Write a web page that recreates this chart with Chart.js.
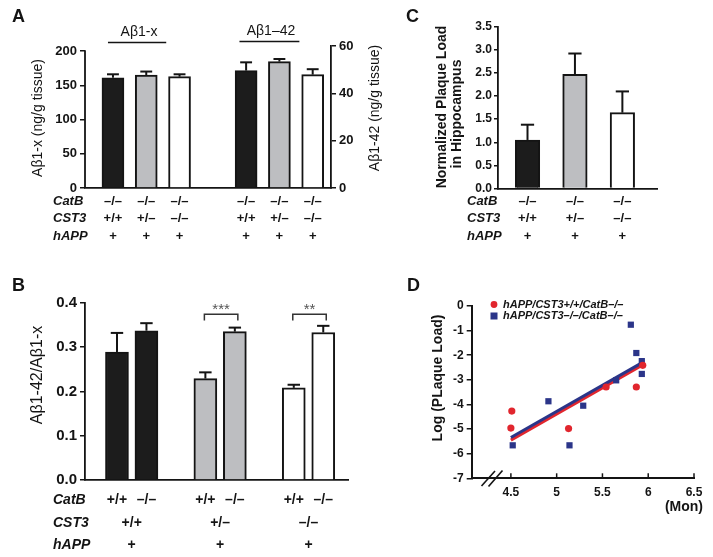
<!DOCTYPE html>
<html>
<head>
<meta charset="utf-8">
<title>CatB / CST3 amyloid panels</title>
<script src="https://cdn.jsdelivr.net/npm/chart.js@4.4.0/dist/chart.umd.min.js"></script>
<style>
  body { margin: 0; background: #fff; }
  #wrap { position: relative; width: 713px; height: 557px; }
  #wrap canvas { position: absolute; left: 0; top: 0; }
</style>
</head>
<body>
<div id="wrap">
  <canvas id="chartA" width="713" height="557"></canvas>
  <canvas id="chartB" width="713" height="557"></canvas>
  <canvas id="chartC" width="713" height="557"></canvas>
  <canvas id="chartD" width="713" height="557"></canvas>
</div>
<script>
// ---- Panel A : Abeta levels (ng/g tissue)
const catBA = ['–/–', '–/–', '–/–', '–/–', '–/–', '–/–'];
const cst3A = ['+/+', '+/–', '–/–', '+/+', '+/–', '–/–'];
const hAppA = ['+', '+', '+', '+', '+', '+'];
const ab1xMean = [161, 165, 162.5];
const ab1xErr = [5, 5, 3.5];
const ab142Mean = [49.6, 53.4, 47.9];
const ab142Err = [3.5, 1.1, 2.3];
const ticksA1x = [0, 50, 100, 150, 200];
const ticksA42 = [0, 20, 40, 60];

// ---- Panel B : Abeta1-42 / Abeta1-x ratio
const catBB = ['+/+', '–/–', '+/+', '–/–', '+/+', '–/–'];
const cst3B = ['+/+', '+/–', '–/–'];
const hAppB = ['+', '+', '+'];
const ratioMean = [0.289, 0.337, 0.229, 0.335, 0.208, 0.333];
const ratioErr = [0.043, 0.017, 0.014, 0.009, 0.007, 0.015];
const ratioStars = ['', '***', '**'];
const ticksB = [0, 0.1, 0.2, 0.3, 0.4];

// ---- Panel C : normalized plaque load in hippocampus
const catBC = ['–/–', '–/–', '–/–'];
const cst3C = ['+/+', '+/–', '–/–'];
const hAppC = ['+', '+', '+'];
const plaqueMean = [1.05, 2.47, 1.64];
const plaqueErr = [0.33, 0.45, 0.46];
const ticksC = [0, 0.5, 1, 1.5, 2, 2.5, 3, 3.5];

// ---- Panel D : log plaque load vs age (months)
const redLabel = 'hAPP/CST3+/+/CatB–/–';
const redAge = [4.51, 4.50, 5.13, 5.54, 5.87, 5.94];
const redLog = [-4.27, -4.96, -4.98, -3.29, -3.29, -2.41];
const blueLabel = 'hAPP/CST3–/–/CatB–/–';
const blueAge = [4.52, 4.91, 5.14, 5.29, 5.65, 5.81, 5.87, 5.93, 5.93];
const blueLog = [-5.66, -3.87, -5.66, -4.05, -3.02, -0.76, -1.91, -2.24, -2.76];
const redFitAge = [4.5, 5.92];
const redFitLog = [-5.45, -2.44];
const blueFitAge = [4.5, 5.92];
const blueFitLog = [-5.34, -2.33];
const ticksDx = [4.5, 5, 5.5, 6, 6.5];
const ticksDy = [-7, -6, -5, -4, -3, -2, -1, 0];

Chart.defaults.font.family = "'Liberation Sans', Arial, Helvetica, sans-serif";
Chart.defaults.color = '#141414';
Chart.defaults.animation = false;
Chart.defaults.responsive = false;
Chart.defaults.devicePixelRatio = 1;
Chart.defaults.plugins.legend.display = false;
Chart.defaults.plugins.tooltip.enabled = false;

const W = 713, H = 557;
const INK = '#141414';
const FILLS = ['#1c1c1c', '#bdbec1', '#ffffff'];
const FONT = "'Liberation Sans', Arial, Helvetica, sans-serif";
const RED = '#e1262e';
const NAVY = '#2b3589';

// padding so that the plot area lands on the given page box
function pad(area, yl, yr, xb) {
  return { left: area.left - yl, right: W - area.right - yr, top: area.top, bottom: H - area.bottom - xb };
}
function fixSize(size) {
  return function (scale) {
    if (scale.isHorizontal()) scale.height = size; else scale.width = size;
    scale.paddingLeft = 0; scale.paddingRight = 0; scale.paddingTop = 0; scale.paddingBottom = 0;
  };
}
function setTicks(list) {
  return function (scale) { scale.ticks = list.map(v => ({ value: v })); };
}
// bars live in slots; a gap of one slot between groups
function slots(groups, perGroup) {
  const out = [];
  for (let g = 0; g < groups; g++) for (let i = 0; i < perGroup; i++) out.push(1 + g * (perGroup + 1) + i);
  return out;
}
function yAxis(width, list, max, font, extra) {
  return Object.assign({
    type: 'linear', min: list[0], max: max,
    afterFit: fixSize(width), afterBuildTicks: setTicks(list),
    grid: { drawOnChartArea: false, drawTicks: true, tickLength: 5, color: INK, lineWidth: 1.5 },
    border: { display: true, color: INK, width: 1.8 },
    ticks: { color: INK, font: font, padding: 3 }
  }, extra || {});
}
function barX(min, max) {
  return {
    type: 'linear', min: min, max: max, offset: false,
    afterFit: fixSize(0),
    grid: { display: false, offset: false },
    border: { display: true, color: INK, width: 1.8 },
    ticks: { display: false }
  };
}

function text(ctx, str, x, y, font, align, rot, color) {
  ctx.save();
  ctx.font = font;
  ctx.fillStyle = color || INK;
  ctx.textAlign = align || 'center';
  ctx.textBaseline = 'middle';
  ctx.translate(x, y);
  if (rot) ctx.rotate(rot);
  ctx.fillText(str, 0, 0);
  ctx.restore();
}
function line(ctx, pts, width, color) {
  ctx.save();
  ctx.strokeStyle = color || INK;
  ctx.lineWidth = width;
  ctx.beginPath();
  pts.forEach((p, i) => i ? ctx.lineTo(p[0], p[1]) : ctx.moveTo(p[0], p[1]));
  ctx.stroke();
  ctx.restore();
}

const errorBars = {
  id: 'errorBars',
  afterDatasetsDraw(chart) {
    const ctx = chart.ctx;
    chart.data.datasets.forEach((ds, di) => {
      if (!ds.errors) return;
      const meta = chart.getDatasetMeta(di);
      const yScale = chart.scales[meta.yAxisID];
      meta.data.forEach((bar, i) => {
        const top = yScale.getPixelForValue(ds.data[i].y + ds.errors[i]);
        const cap = bar.width * 0.27;
        line(ctx, [[bar.x, bar.y], [bar.x, top]], 2);
        line(ctx, [[bar.x - cap, top], [bar.x + cap, top]], 2);
      });
    });
  }
};

function barSet(values, errs, xs, colors, axisId, thickness) {
  return {
    data: values.map((v, i) => ({ x: xs[i], y: v })),
    errors: errs,
    yAxisID: axisId,
    backgroundColor: colors,
    borderColor: INK,
    borderWidth: 2,
    barThickness: thickness,
    grouped: false
  };
}

// ---------------- Panel A
const slotsA = slots(2, 3);
const areaA = { left: 85, right: 331, top: 46, bottom: 188 };
new Chart(document.getElementById('chartA'), {
  type: 'bar',
  data: {
    datasets: [
      barSet(ab1xMean, ab1xErr, slotsA.slice(0, 3), FILLS, 'y', 22),
      barSet(ab142Mean, ab142Err, slotsA.slice(3), FILLS, 'y1', 22)
    ]
  },
  options: {
    layout: { padding: pad(areaA, 85, 30, 0), autoPadding: false },
    scales: {
      x: barX(0.16, 7.55),
      // left axis line only runs up to 200, drawn in extrasA
      y: yAxis(85, ticksA1x, 207.3, { weight: 'bold', size: 13 }, { border: { display: false } }),
      y1: yAxis(30, ticksA42, 60, { weight: 'bold', size: 13 }, { position: 'right' })
    }
  },
  plugins: [errorBars, {
    id: 'extrasA',
    afterDraw(chart) {
      const ctx = chart.ctx, x = chart.scales.x, y = chart.scales.y;
      const left = chart.chartArea.left;
      line(ctx, [[left, y.getPixelForValue(0)], [left, y.getPixelForValue(ticksA1x[ticksA1x.length - 1]) - 0.7]], 1.8);
      text(ctx, 'A', 12, 17, 'bold 18px ' + FONT, 'left');
      text(ctx, 'Aβ1-x (ng/g tissue)', 38, 118, '14px ' + FONT, 'center', -Math.PI / 2);
      text(ctx, 'Aβ1-42 (ng/g tissue)', 375, 108, '14px ' + FONT, 'center', -Math.PI / 2);
      text(ctx, 'Aβ1-x', 139, 32, '14px ' + FONT);
      line(ctx, [[x.getPixelForValue(0.85), 42.5], [x.getPixelForValue(2.6), 42.5]], 1.5);
      text(ctx, 'Aβ1–42', 271, 31, '14px ' + FONT);
      line(ctx, [[x.getPixelForValue(4.8), 41.5], [x.getPixelForValue(6.6), 41.5]], 1.5);
      const rows = [['CatB', catBA, 201], ['CST3', cst3A, 218], ['hAPP', hAppA, 236]];
      rows.forEach(r => {
        text(ctx, r[0], 53, r[2], 'italic bold 13px ' + FONT, 'left');
        r[1].forEach((s, i) => text(ctx, s, x.getPixelForValue(slotsA[i]), r[2], 'bold 13px ' + FONT));
      });
    }
  }]
});

// ---------------- Panel B
const slotsB = slots(3, 2);
const areaB = { left: 85, right: 348, top: 302.8, bottom: 480 };
new Chart(document.getElementById('chartB'), {
  type: 'bar',
  data: {
    datasets: [
      barSet(ratioMean, ratioErr, slotsB, [FILLS[0], FILLS[0], FILLS[1], FILLS[1], FILLS[2], FILLS[2]], 'y', 23)
    ]
  },
  options: {
    layout: { padding: pad(areaB, 85, 0, 0), autoPadding: false },
    scales: {
      x: barX(-0.085, 8.84),
      y: yAxis(85, ticksB, 0.4, { weight: 'bold', size: 15 }, {
        ticks: { color: INK, font: { weight: 'bold', size: 15 }, padding: 3, callback: v => v.toFixed(1) }
      })
    }
  },
  plugins: [errorBars, {
    id: 'extrasB',
    afterDraw(chart) {
      const ctx = chart.ctx, x = chart.scales.x, y = chart.scales.y;
      text(ctx, 'B', 12, 286, 'bold 18px ' + FONT, 'left');
      text(ctx, 'Aβ1-42/Aβ1-x', 38, 375, '16px ' + FONT, 'center', -Math.PI / 2);
      ratioStars.forEach((s, g) => {
        if (!s) return;
        const x0 = x.getPixelForValue(slotsB[g * 2]) - 1;
        const x1 = x.getPixelForValue(slotsB[g * 2 + 1]) + 3;
        const yb = y.getPixelForValue(0.374), yt = y.getPixelForValue(0.36);
        line(ctx, [[x0, yt], [x0, yb], [x1, yb], [x1, yt]], 1.5, '#333');
        text(ctx, s, (x0 + x1) / 2, y.getPixelForValue(0.385), '15px ' + FONT, 'center', 0, '#555');
      });
      const font = 'bold 14px ' + FONT;
      text(ctx, 'CatB', 53, 500, 'italic ' + font, 'left');
      catBB.forEach((s, i) => text(ctx, s, x.getPixelForValue(slotsB[i]), 500, font));
      text(ctx, 'CST3', 53, 523, 'italic ' + font, 'left');
      text(ctx, 'hAPP', 53, 545, 'italic ' + font, 'left');
      cst3B.forEach((s, g) => {
        const cx = (x.getPixelForValue(slotsB[g * 2]) + x.getPixelForValue(slotsB[g * 2 + 1])) / 2;
        text(ctx, s, cx, 523, font);
        text(ctx, hAppB[g], cx, 545, font);
      });
    }
  }]
});

// ---------------- Panel C
const slotsC = slots(1, 3);
const areaC = { left: 498, right: 657, top: 26.7, bottom: 188.5 };
new Chart(document.getElementById('chartC'), {
  type: 'bar',
  data: {
    datasets: [barSet(plaqueMean, plaqueErr, slotsC, FILLS, 'y', 24.5)]
  },
  options: {
    layout: { padding: pad(areaC, 60, 0, 0), autoPadding: false },
    scales: {
      x: barX(0.378, 3.73),
      y: yAxis(60, ticksC, 3.5, { weight: 'bold', size: 12 }, {
        ticks: { color: INK, font: { weight: 'bold', size: 12 }, padding: 2, callback: v => v.toFixed(1) },
        grid: { drawOnChartArea: false, drawTicks: true, tickLength: 4, color: INK, lineWidth: 1.5 }
      })
    }
  },
  plugins: [errorBars, {
    id: 'extrasC',
    afterDraw(chart) {
      const ctx = chart.ctx, x = chart.scales.x;
      text(ctx, 'C', 406, 17, 'bold 18px ' + FONT, 'left');
      text(ctx, 'Normalized Plaque Load', 442, 107, 'bold 14px ' + FONT, 'center', -Math.PI / 2);
      text(ctx, 'in Hippocampus', 457, 114, 'bold 14px ' + FONT, 'center', -Math.PI / 2);
      const rows = [['CatB', catBC, 201], ['CST3', cst3C, 218], ['hAPP', hAppC, 236]];
      rows.forEach(r => {
        text(ctx, r[0], 467, r[2], 'italic bold 13px ' + FONT, 'left');
        r[1].forEach((s, i) => text(ctx, s, x.getPixelForValue(slotsC[i]), r[2], 'bold 13px ' + FONT));
      });
    }
  }]
});

// ---------------- Panel D
const areaD = { left: 471.7, right: 694, top: 306, bottom: 478.3 };
const toPts = (xs, ys) => xs.map((v, i) => ({ x: v, y: ys[i] }));
new Chart(document.getElementById('chartD'), {
  type: 'scatter',
  data: {
    datasets: [
      { label: redLabel, data: toPts(redAge, redLog), pointStyle: 'circle', pointRadius: 3.6,
        backgroundColor: RED, borderColor: RED, borderWidth: 0, order: 1 },
      { label: blueLabel, data: toPts(blueAge, blueLog), pointStyle: 'rect', pointRadius: 4.4,
        backgroundColor: NAVY, borderColor: NAVY, borderWidth: 0, order: 1 },
      { type: 'line', data: toPts(redFitAge, redFitLog), borderColor: RED, borderWidth: 3,
        pointRadius: 0, order: 3 },
      { type: 'line', data: toPts(blueFitAge, blueFitLog), borderColor: NAVY, borderWidth: 3,
        pointRadius: 0, order: 2 }
    ]
  },
  options: {
    clip: false,
    layout: { padding: pad(areaD, 40, 0, 25), autoPadding: false },
    scales: {
      x: {
        type: 'linear', min: 4.072, max: 6.5,
        afterFit: fixSize(25), afterBuildTicks: setTicks(ticksDx),
        grid: { display: false, drawTicks: false },
        border: { display: true, color: INK, width: 2 },
        ticks: { color: INK, font: { weight: 'bold', size: 12 }, padding: 7, maxRotation: 0,
          callback: v => String(v) }
      },
      y: yAxis(40, ticksDy, 0, { weight: 'bold', size: 12 }, {
        border: { display: true, color: INK, width: 2 },
        grid: { drawOnChartArea: false, drawTicks: true, tickLength: 5, color: INK, lineWidth: 1.5 },
        ticks: { color: INK, font: { weight: 'bold', size: 12 }, padding: 3, callback: v => String(v) }
      })
    }
  },
  plugins: [{
    id: 'extrasD',
    afterDraw(chart) {
      const ctx = chart.ctx, x = chart.scales.x;
      const base = chart.chartArea.bottom;
      text(ctx, 'D', 407, 286, 'bold 18px ' + FONT, 'left');
      text(ctx, 'Log (PLaque Load)', 438, 378, 'bold 14px ' + FONT, 'center', -Math.PI / 2);
      text(ctx, '(Mon)', 703, 507, 'bold 14px ' + FONT, 'right');
      ticksDx.forEach(v => {
        const px = x.getPixelForValue(v);
        line(ctx, [[px, base], [px, base - 5]], 1.5);
      });
      line(ctx, [[481.5, 486], [495, 471]], 1.6);
      line(ctx, [[488.5, 486.5], [502.5, 470.5]], 1.6);
      const ds = chart.data.datasets;
      ctx.fillStyle = ds[0].backgroundColor;
      ctx.beginPath(); ctx.arc(494, 304.5, 3.4, 0, Math.PI * 2); ctx.fill();
      ctx.fillStyle = ds[1].backgroundColor;
      ctx.fillRect(490.5, 312.5, 7, 7);
      text(ctx, ds[0].label, 503, 304.5, 'italic bold 11px ' + FONT, 'left');
      text(ctx, ds[1].label, 503, 316, 'italic bold 11px ' + FONT, 'left');
    }
  }]
});
</script>
</body>
</html>
